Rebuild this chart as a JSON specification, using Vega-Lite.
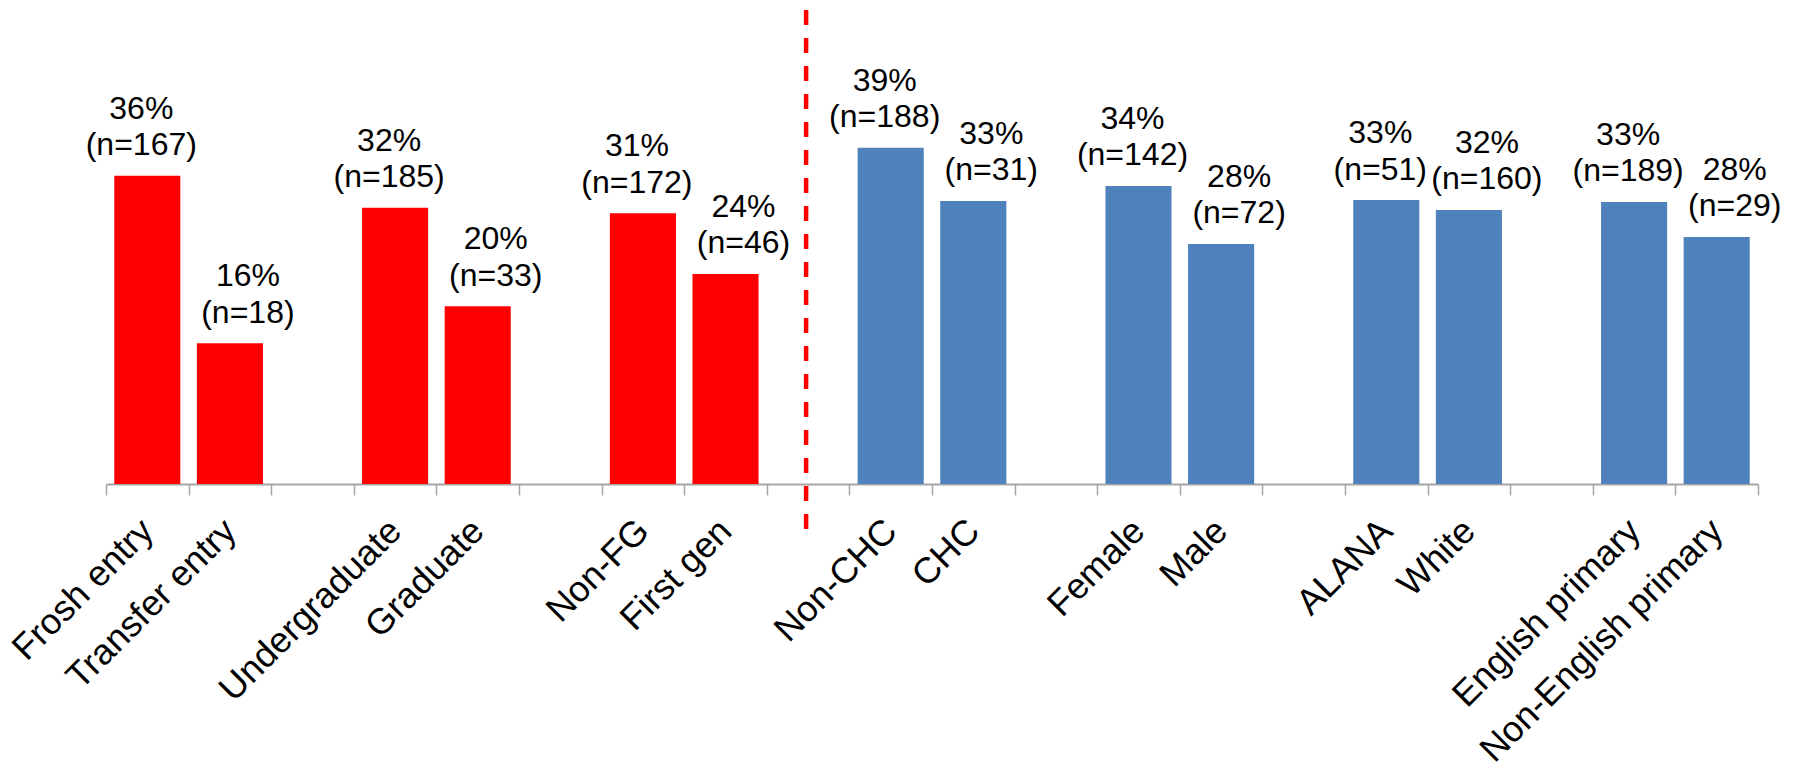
{
  "$schema": "https://vega.github.io/schema/vega-lite/v6.json",
  "width": 1652,
  "height": 479,
  "config": {"view": {"stroke": null}},
  "data": {
    "values": [
      {"cat": "Frosh entry", "pct": 35.54, "pct_text": "36%", "n_text": "(n=167)", "group": "A", "member": "first"},
      {"cat": "Transfer entry", "pct": 16.22, "pct_text": "16%", "n_text": "(n=18)", "group": "A", "member": "second"},
      {"cat": "Undergraduate", "pct": 31.85, "pct_text": "32%", "n_text": "(n=185)", "group": "A", "member": "first"},
      {"cat": "Graduate", "pct": 20.49, "pct_text": "20%", "n_text": "(n=33)", "group": "A", "member": "second"},
      {"cat": "Non-FG", "pct": 31.21, "pct_text": "31%", "n_text": "(n=172)", "group": "A", "member": "first"},
      {"cat": "First gen", "pct": 24.21, "pct_text": "24%", "n_text": "(n=46)", "group": "A", "member": "second"},
      {"cat": "Non-CHC", "pct": 38.77, "pct_text": "39%", "n_text": "(n=188)", "group": "B", "member": "first"},
      {"cat": "CHC", "pct": 32.63, "pct_text": "33%", "n_text": "(n=31)", "group": "B", "member": "second"},
      {"cat": "Female", "pct": 34.36, "pct_text": "34%", "n_text": "(n=142)", "group": "B", "member": "first"},
      {"cat": "Male", "pct": 27.67, "pct_text": "28%", "n_text": "(n=72)", "group": "B", "member": "second"},
      {"cat": "ALANA", "pct": 32.74, "pct_text": "33%", "n_text": "(n=51)", "group": "B", "member": "first"},
      {"cat": "White", "pct": 31.59, "pct_text": "32%", "n_text": "(n=160)", "group": "B", "member": "second"},
      {"cat": "English primary", "pct": 32.51, "pct_text": "33%", "n_text": "(n=189)", "group": "B", "member": "first"},
      {"cat": "Non-English primary", "pct": 28.48, "pct_text": "28%", "n_text": "(n=29)", "group": "B", "member": "second"}
    ]
  },
  "layer": [
    {
      "mark": {"type": "bar", "width": {"band": 0.8}},
      "encoding": {
        "x": {
          "field": "cat",
          "type": "nominal",
          "scale": {
            "domain": ["Frosh entry", "Transfer entry", " ", "Undergraduate", "Graduate", "  ", "Non-FG", "First gen", "   ", "Non-CHC", "CHC", "    ", "Female", "Male", "     ", "ALANA", "White", "      ", "English primary", "Non-English primary"],
            "paddingInner": 0,
            "paddingOuter": 0
          },
          "axis": {
            "title": null,
            "labelAngle": -45,
            "labelAlign": "right",
            "labelBaseline": "middle",
            "labelFont": "Liberation Sans",
            "labelFontSize": 36,
            "labelColor": "#000000",
            "labelPadding": 30,
            "labelLimit": 1000,
            "labelOverlap": false,
            "tickBand": "extent",
            "tickSize": 11,
            "tickWidth": 1.5,
            "tickColor": "#A6A6A6",
            "domainColor": "#A6A6A6",
            "domainWidth": 2,
            "grid": false
          }
        },
        "y": {
          "field": "pct",
          "type": "quantitative",
          "scale": {"domain": [0, 55.22], "nice": false},
          "axis": null
        },
        "color": {
          "field": "group",
          "type": "nominal",
          "scale": {"domain": ["A", "B"], "range": ["#FF0000", "#4F81BD"]},
          "legend": null
        }
      }
    },
    {
      "transform": [{"filter": {"field": "member", "equal": "first"}}],
      "mark": {"type": "text", "font": "Liberation Sans", "fontSize": 32, "baseline": "alphabetic", "align": "center", "dy": -57, "xOffset": -6, "color": "#000000"},
      "encoding": {
        "x": {"field": "cat", "type": "nominal"},
        "y": {"field": "pct", "type": "quantitative"},
        "text": {"field": "pct_text"}
      }
    },
    {
      "transform": [{"filter": {"field": "member", "equal": "first"}}],
      "mark": {"type": "text", "font": "Liberation Sans", "fontSize": 32, "baseline": "alphabetic", "align": "center", "dy": -20.5, "xOffset": -6, "color": "#000000"},
      "encoding": {
        "x": {"field": "cat", "type": "nominal"},
        "y": {"field": "pct", "type": "quantitative"},
        "text": {"field": "n_text"}
      }
    },
    {
      "transform": [{"filter": {"field": "member", "equal": "second"}}],
      "mark": {"type": "text", "font": "Liberation Sans", "fontSize": 32, "baseline": "alphabetic", "align": "center", "dy": -57, "xOffset": 18, "color": "#000000"},
      "encoding": {
        "x": {"field": "cat", "type": "nominal"},
        "y": {"field": "pct", "type": "quantitative"},
        "text": {"field": "pct_text"}
      }
    },
    {
      "transform": [{"filter": {"field": "member", "equal": "second"}}],
      "mark": {"type": "text", "font": "Liberation Sans", "fontSize": 32, "baseline": "alphabetic", "align": "center", "dy": -20.5, "xOffset": 18, "color": "#000000"},
      "encoding": {
        "x": {"field": "cat", "type": "nominal"},
        "y": {"field": "pct", "type": "quantitative"},
        "text": {"field": "n_text"}
      }
    },
    {
      "data": {"values": [{"cat": "   ", "top": 54.65, "bottom": -5.3}]},
      "mark": {"type": "rule", "color": "#FF0000", "strokeWidth": 4.5, "strokeDash": [15, 13], "xOffset": -2},
      "encoding": {
        "x": {"field": "cat", "type": "nominal"},
        "y": {"field": "top", "type": "quantitative"},
        "y2": {"field": "bottom"}
      }
    }
  ]
}
